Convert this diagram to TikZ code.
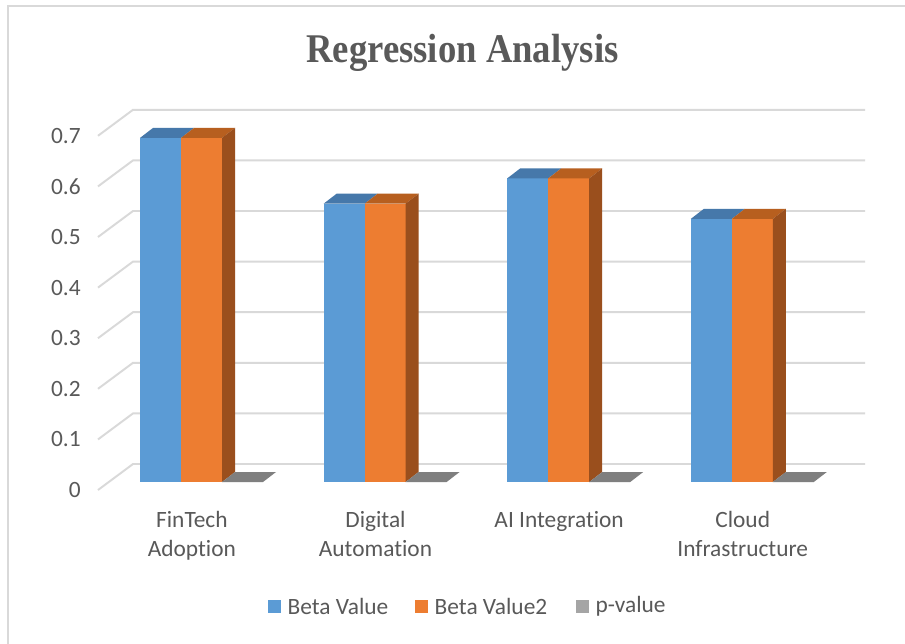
\documentclass[tikz,border=0pt]{standalone}
\usepackage{fontspec}
\setmainfont{Carlito}[Ligatures={NoCommon}]
\newfontfamily\titlefont{Liberation Serif}
\usetikzlibrary{positioning}
\definecolor{gridgray}{HTML}{D9D9D9}
\definecolor{txtgray}{HTML}{595959}
\definecolor{beta}{HTML}{5B9BD5}
\definecolor{betatop}{HTML}{4678AA}
\definecolor{betatwo}{HTML}{ED7D31}
\definecolor{betatwotop}{HTML}{B75F1F}
\definecolor{betatwoside}{HTML}{9A4F1D}
\definecolor{pval}{HTML}{A5A5A5}
\definecolor{pvaltop}{HTML}{7F7F7F}

\begin{document}
\begin{tikzpicture}[x=0.02cm,y=-0.02cm,
  grid/.style={draw=gridgray,line width=1.1pt},
  lbl/.style={text=txtgray,font=\fontsize{13.3}{16.6}\selectfont,inner sep=0pt},
  keybox/.style={minimum size=0.26cm,inner sep=0pt}]

  \useasboundingbox (0,0) rectangle (905,643);
  \fill[white] (0,0) rectangle (905,643);
  \draw[gridgray,line width=1pt] (8,650) -- (8,6) -- (910,6);

  \node[text=txtgray,font=\titlefont\bfseries\fontsize{23.2}{28}\selectfont,
    anchor=base,inner sep=0pt] (title) at (462.5,62)
    {\scalebox{0.9}[1]{Regression Analysis}};

  % Gridlines and axis
  \foreach \k in {0,...,7}{
    \draw[grid] (98,490-50.6*\k) -- ++(35,-26) -- ++(732,0);
    \ifnum\k=0
      \node[lbl,anchor=east] (y\k) at (81,490) {0};
    \else
      \node[lbl,anchor=east] (y\k) at (81,490-50.6*\k) {0.\k};
    \fi
  }

  % Bars
  \foreach \i/\v/\cat in {0/0.68/{FinTech\\Adoption},1/0.55/{Digital\\Automation},
      2/0.60/{AI Integration},3/0.52/{Cloud\\Infrastructure}}{
    \pgfmathsetmacro\xa{140+183.6*\i}
    \pgfmathsetmacro\h{\v*506}
    \fill[beta] (\xa,482) rectangle ++(41,-\h);
    \fill[betatop] (\xa,482-\h) -- ++(13,-10) -- ++(41,0) -- ++(-13,10) -- cycle;
    \fill[betatwo] (\xa+41,482) rectangle ++(41,-\h);
    \fill[betatwotop] (\xa+41,482-\h) -- ++(13,-10) -- ++(41,0) -- ++(-13,10) -- cycle;
    \fill[betatwoside] (\xa+82,482) -- ++(0,-\h) -- ++(13,-10) -- ++(0,\h) -- cycle;
    \fill[pvaltop] (\xa+82,482) -- ++(13,-10) -- ++(41,0) -- ++(-13,10) -- cycle;
    \node[lbl,align=center,anchor=north] (cat\i) at (191.9+183.6*\i,511) {\cat};
  }

  % Legend
  \node[keybox,fill=beta] (k1) at (274.5,606) {};
  \node[lbl,right=0.12cm of k1] (t1) {Beta Value};
  \node[keybox,fill=betatwo,right=0.52cm of t1] (k2) {};
  \node[lbl,right=0.12cm of k2] (t2) {Beta Value2};
  \node[keybox,fill=pval,right=0.56cm of t2] (k3) {};
  \node[lbl,right=0.12cm of k3] (t3) {p-value};

\end{tikzpicture}
\end{document}
